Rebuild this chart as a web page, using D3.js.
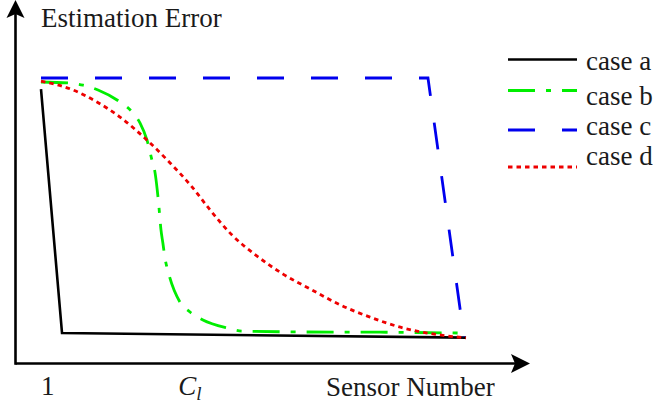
<!DOCTYPE html>
<html>
<head>
<meta charset="utf-8">
<script src="https://cdn.jsdelivr.net/npm/d3@7"></script>
<style>
  body { margin: 0; background: #fff; }
  text { font-family: "Liberation Serif", "Times New Roman", serif; fill: #1a1a1a; }
</style>
</head>
<body>
<div id="chart"></div>
<script>
// Sensor number (x) and estimation error (y, normalised)
const caseAX = [1, 1.94, 20];
const caseAY = [0.961, 0.105, 0.089];

const caseBX = [1, 2.3, 2.88, 3.55, 4.53, 5.07, 5.43, 5.74, 5.96, 6.1, 6.19, 6.27, 6.36, 6.45, 6.54, 6.72, 7.21, 7.66, 8.24, 9.31, 9.99, 12.58, 16.15, 20];
const caseBY = [0.986, 0.982, 0.975, 0.958, 0.916, 0.881, 0.842, 0.782, 0.712, 0.667, 0.612, 0.55, 0.47, 0.42, 0.37, 0.31, 0.214, 0.179, 0.151, 0.123, 0.112, 0.109, 0.108, 0.105];

const caseCX = [1, 18.3, 19.91];
const caseCY = [1.0, 1.0, 0.091];

const caseDX = [1, 2.43, 3.5, 4.53, 5.74, 6.77, 7.75, 8.56, 9.54, 10.66, 11.82, 13.12, 14.37, 15.71, 17.18, 18.52, 20];
const caseDY = [0.989, 0.958, 0.916, 0.863, 0.782, 0.702, 0.618, 0.537, 0.449, 0.375, 0.312, 0.256, 0.204, 0.161, 0.123, 0.102, 0.088];

const seriesNames = ["case a", "case b", "case c", "case d"];
const seriesColors = ["#000000", "#00ee00", "#0000ee", "#ee0000"];
const seriesDashes = [null, "27,11,5,11", "27,27", "4.5,4"];

const tickValues = [1.3, 7.66];

const dimensions = {
    width: 653,
    height: 409,
    margin: {top: 78, right: 187, bottom: 46, left: 41},
};

const svg = d3.select("#chart")
    .append("svg")
    .attr("width", dimensions.width)
    .attr("height", dimensions.height);

const xScale = d3.scaleLinear()
    .domain([1, 20])
    .range([dimensions.margin.left, dimensions.width - dimensions.margin.right]);

const yScale = d3.scaleLinear()
    .domain([0, 1])
    .range([363, dimensions.margin.top]);

// axes with arrow heads
const axisY = 363.5, axisX = 15.5;
svg.append("line")
    .attr("x1", axisX).attr("y1", axisY)
    .attr("x2", 518).attr("y2", axisY)
    .attr("stroke", "#000").attr("stroke-width", 2.6);
svg.append("line")
    .attr("x1", axisX).attr("y1", axisY + 1.3)
    .attr("x2", axisX).attr("y2", 12)
    .attr("stroke", "#000").attr("stroke-width", 2.6);

svg.append("path")
    .attr("d", `M530,${axisY} L511,${axisY - 9.5} L515,${axisY} L511,${axisY + 9.5} Z`)
    .attr("fill", "#000");
svg.append("path")
    .attr("d", `M${axisX},0 L${axisX - 9},18 L${axisX},14 L${axisX + 9},18 Z`)
    .attr("fill", "#000");

// series lines
const series = [
    {x: caseAX, y: caseAY, curve: d3.curveLinear},
    {x: caseBX, y: caseBY, curve: d3.curveMonotoneX},
    {x: caseCX, y: caseCY, curve: d3.curveLinear},
    {x: caseDX, y: caseDY, curve: d3.curveMonotoneX},
];

series.forEach((s, i) => {
    const points = s.x.map((x, j) => [x, s.y[j]]);
    const lineGenerator = d3.line()
        .x(d => xScale(d[0]))
        .y(d => yScale(d[1]))
        .curve(s.curve);
    svg.append("path")
        .datum(points)
        .attr("d", lineGenerator)
        .attr("fill", "none")
        .attr("stroke", seriesColors[i])
        .attr("stroke-width", i === 0 ? 2.6 : 2.8)
        .attr("stroke-dasharray", seriesDashes[i]);
});

// axis titles and tick labels
svg.append("text")
    .attr("x", 41).attr("y", 27)
    .attr("font-size", 27)
    .text("Estimation Error");

svg.append("text")
    .attr("x", 326).attr("y", 396)
    .attr("font-size", 27)
    .text("Sensor Number");

svg.append("text")
    .attr("x", xScale(tickValues[0])).attr("y", 395)
    .attr("font-size", 27)
    .attr("text-anchor", "middle")
    .text("1");

const cl = svg.append("text")
    .attr("x", xScale(tickValues[1])).attr("y", 395)
    .attr("font-size", 27)
    .attr("text-anchor", "middle")
    .attr("font-style", "italic");
cl.append("tspan").text("C");
cl.append("tspan").attr("font-size", 19).attr("dy", 5).text("l");

// legend
const legendLineY = [59.5, 90.5, 130, 167];
const legendTextY = [70, 105, 135, 165];
const legend = svg.append("g");
seriesNames.forEach((name, i) => {
    legend.append("line")
        .attr("x1", 508).attr("x2", 577)
        .attr("y1", legendLineY[i]).attr("y2", legendLineY[i])
        .attr("stroke", seriesColors[i])
        .attr("stroke-width", i === 0 ? 2.6 : 2.8)
        .attr("stroke-dasharray", seriesDashes[i]);
    legend.append("text")
        .attr("x", 586).attr("y", legendTextY[i])
        .attr("font-size", 27)
        .text(name);
});
</script>
</body>
</html>
